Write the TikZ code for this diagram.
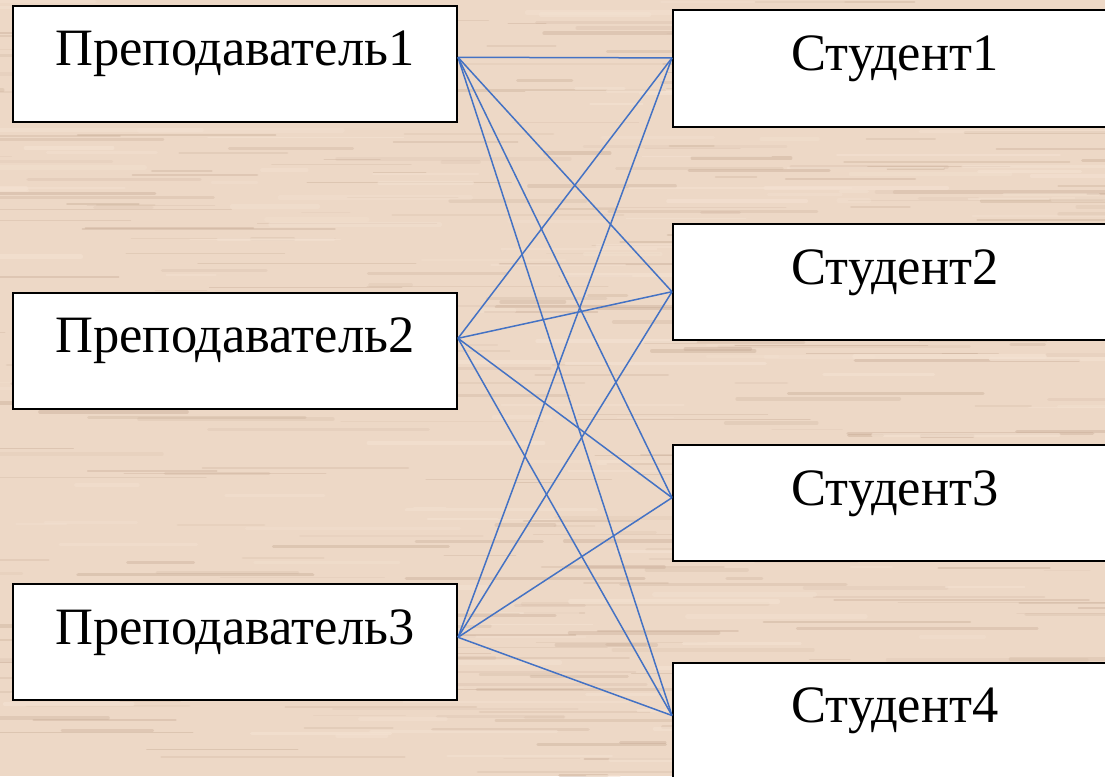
\documentclass[tikz,border=0pt]{standalone}
\usepackage{fontspec}
\setmainfont{Liberation Serif}
\definecolor{wood}{RGB}{237,216,198}
\definecolor{woodlight}{RGB}{244,226,210}
\definecolor{streak}{RGB}{196,168,146}
\definecolor{link}{RGB}{68,114,196}
\tikzset{
  box/.style={draw=black, line width=2pt, fill=white, anchor=north west,
    inner xsep=0pt, inner ysep=0pt, text width=444pt, align=center,
    text height=60pt, text depth=56pt,
    font=\fontsize{52.5}{60}\selectfont},
  conn/.style={draw=link, line width=1.5pt},
  grain/.style={draw=streak, line cap=round},
  grainlight/.style={draw=woodlight, line cap=round}
}
\begin{document}
\begin{tikzpicture}[x=1pt, y=-1pt]
\useasboundingbox (0,0) rectangle (1105,776);
\clip (0,0) rectangle (1105,776);
% wood background
\fill[wood] (0,0) rectangle (1105,776);
\pgfmathsetseed{17}
\foreach \i in {1,...,420}{
  \pgfmathsetmacro\sx{rnd*1200-80}
  \pgfmathsetmacro\sy{rnd*776}
  \pgfmathsetmacro\sl{25+rnd*230}
  \pgfmathsetmacro\sw{0.8+rnd*3.2}
  \pgfmathsetmacro\so{0.10+rnd*0.30}
  \draw[grain, line width=\sw pt, opacity=\so] (\sx,\sy) -- ++(\sl,0);
}
\foreach \i in {1,...,200}{
  \pgfmathsetmacro\sx{rnd*1200-80}
  \pgfmathsetmacro\sy{rnd*776}
  \pgfmathsetmacro\sl{25+rnd*200}
  \pgfmathsetmacro\sw{1+rnd*4}
  \pgfmathsetmacro\so{0.3+rnd*0.4}
  \draw[grainlight, line width=\sw pt, opacity=\so] (\sx,\sy) -- ++(\sl,0);
}
% boxes
\node[box] (p1) at (12,5) {Преподаватель1};
\node[box] (p2) at (12,291.5) {Преподаватель2};
\node[box] (p3) at (12,583) {Преподаватель3};
\node[box] (s1) at (672,9.5) {Студент1};
\node[box] (s2) at (672,223) {Студент2};
\node[box] (s3) at (672,444) {Студент3};
\node[box] (s4) at (672,661.5) {Студент4};
% connection points
\coordinate (c-p1) at ([yshift=-52.3pt]p1.north east);
\coordinate (c-p2) at ([yshift=-46.8pt]p2.north east);
\coordinate (c-p3) at ([yshift=-54.3pt]p3.north east);
\coordinate (c-s1) at ([yshift=-48.4pt]s1.north west);
\coordinate (c-s2) at ([yshift=-68.7pt]s2.north west);
\coordinate (c-s3) at ([yshift=-53.7pt]s3.north west);
\coordinate (c-s4) at ([yshift=-54pt]s4.north west);
% connectors
\foreach \p in {p1,p2,p3}{
  \foreach \s in {s1,s2,s3,s4}{
    \draw[conn] (c-\p) -- (c-\s);
  }
}
\end{tikzpicture}
\end{document}
